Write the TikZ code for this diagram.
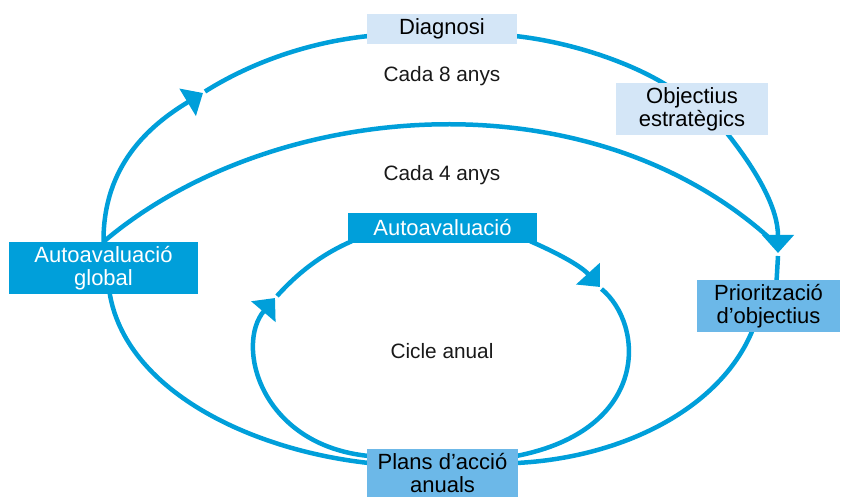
\documentclass[tikz,border=0pt]{standalone}
\usepackage{fontspec}
\setmainfont{Liberation Sans}
\usetikzlibrary{arrows.meta,backgrounds,calc}
\definecolor{cyanline}{HTML}{009FDA}
\definecolor{lightbox}{HTML}{D4E6F7}
\definecolor{midbox}{HTML}{6CB8E8}
\tikzset{
  flow/.style={draw=cyanline,line width=4.5pt},
  tipped/.style={flow,-{Triangle[length=18pt,width=31pt]}},
  boxbase/.style={inner sep=0pt,align=center,font=\fontsize{22}{23}\selectfont},
  lightnode/.style={boxbase,fill=lightbox,text=black},
  cyannode/.style={boxbase,fill=cyanline,text=white},
  midnode/.style={boxbase,fill=midbox,text=black},
  plain/.style={inner sep=0pt,font=\fontsize{20.8}{22}\selectfont,text=black!90}
}
\begin{document}
\begin{tikzpicture}[x=1pt,y=-1pt]
\path[use as bounding box] (0,0) rectangle (841,497);
% boxes
\node[lightnode,minimum width=150pt,minimum height=30pt] (diag) at (442,29) {Diagnosi};
\node[lightnode,minimum width=152pt,minimum height=52pt] (obj) at (692,109) {Objectius\\estratègics};
\node[cyannode,minimum width=189pt,minimum height=52pt] (glob) at (103.5,268) {Autoavaluació\\global};
\node[cyannode,minimum width=189pt,minimum height=30pt] (auto) at (442.5,228) {Autoavaluació};
\node[midnode,minimum width=143pt,minimum height=52pt] (prio) at (768.5,306) {Priorització\\d’objectius};
\node[midnode,minimum width=151pt,minimum height=49pt] (plans) at (442.5,473) {Plans d’acció\\anuals};
% free texts
\node[plain] (c8) at (442,76) {Cada 8 anys};
\node[plain] (c4) at (442,175) {Cada 4 anys};
\node[plain] (ca) at (442,351) {Cicle anual};
% arrow points
\coordinate (tipA) at (203,93);
\coordinate (contA) at (205,91.5);
\coordinate (tipB) at (778,253);
\coordinate (contB) at (778,256);
\coordinate (tipC) at (275,298);
\coordinate (contC) at (277,296);
\coordinate (tipD) at (600,287);
\coordinate (contD) at (601.5,289);
\coordinate (endC4) at (776,244);
\begin{scope}[on background layer]
% outer loop
\draw[tipped] (glob.north) .. controls (103,165) and (150,125) .. (tipA);
\draw[flow] (contA) .. controls (252,62) and (310,42) .. ($(diag.west)+(2,7)$);
\draw[flow] ($(diag.east)+(-2,7)$) .. controls (570,42) and (630,62) .. (668,86);
% every 4 years arc
\draw[flow] (glob.north) .. controls (270,100) and (590,70) .. (endC4);
\draw[tipped] ($(obj.south)+(35,-2)$) .. controls (760,175) and (778,210) .. (tipB);
\draw[flow] (contB) -- ($(prio.north)+(8,2)$);
\draw[flow] ($(prio.south)+(-16,-2)$) .. controls (720,410) and (620,458) .. ($(plans.east)+(-2,-10)$);
\draw[flow] ($(plans.west)+(2,-10)$) .. controls (250,450) and (125,390) .. ($(glob.south)+(6,-2)$);
% annual cycle
\draw[tipped] ($(plans.west)+(2,-17)$) .. controls (260,445) and (235,345) .. (tipC);
\draw[flow] (contC) .. controls (297,274) and (320,255) .. ($(auto.south west)+(4,-2)$);
\draw[tipped] ($(auto.south east)+(-7,-2)$) .. controls (555,252) and (580,265) .. (tipD);
\draw[flow] (contD) .. controls (645,325) and (650,430) .. ($(plans.east)+(-2,-17)$);
\end{scope}
\end{tikzpicture}
\end{document}
